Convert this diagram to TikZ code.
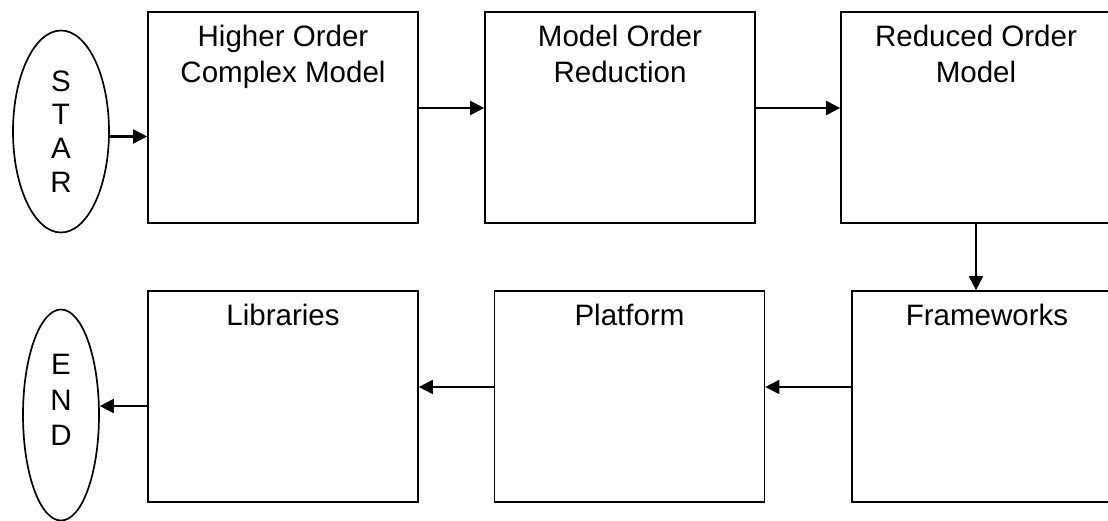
\documentclass[tikz,border=0pt]{standalone}
\usepackage{fontspec}
\setmainfont{Liberation Sans}
\usetikzlibrary{shapes.geometric,arrows.meta}

\tikzset{
  block/.style={draw, line width=1.2pt, minimum width=6.75cm,
    minimum height=5.275cm, inner sep=0pt},
  title/.style={label={[anchor=north, yshift=-0.1cm, align=center]north:#1}},
  terminal/.style={draw, ellipse, line width=1.2pt, inner sep=0pt},
  flow/.style={line width=1.5pt, -{Triangle[length=0.35cm, width=0.35cm]}},
}

\begin{document}
\begin{tikzpicture}[node font=\fontsize{21}{25.3}\selectfont]
  \useasboundingbox (0,0) rectangle (27.7,-13.025);
  % top row
  \node [terminal, minimum width=2.4cm, minimum height=5.05cm, align=center,
    node font=\fontsize{21}{24}\selectfont]
    (start) at (1.525,-3.2875) {S\\T\\A\\R};
  \node [block, title={Higher Order\\Complex Model}] (hocm) at (7.075,-2.9375) {};
  \node [block, title={Model Order\\Reduction}] (mor) at (15.5,-2.9375) {};
  \node [block, title={Reduced Order\\Model}] (rom) at (24.4,-2.9375) {};
  % bottom row
  \node [block, title=Frameworks] (fw) at (24.675,-9.9125) {};
  \node [block, title=Platform] (plat) at (15.7375,-9.9125) {};
  \node [block, title=Libraries] (lib) at (7.075,-9.9125) {};
  \node [terminal, minimum width=1.9cm, minimum height=5.275cm,
    label={[yshift=0.375cm, align=center]center:E\\N\\D}]
    (end) at (1.525,-10.375) {};
  % arrows
  \draw [flow] ([yshift=-0.125cm]start.east) -- ([yshift=-0.125cm]start.east -| hocm.west);
  \draw [flow] ([yshift=0.2375cm]hocm.east) -- ([yshift=0.2375cm]mor.west);
  \draw [flow] ([yshift=0.2375cm]mor.east) -- ([yshift=0.2375cm]rom.west);
  \draw [flow] (rom.south) -- (rom.south |- fw.north);
  \draw [flow] ([yshift=0.2375cm]fw.west) -- ([yshift=0.2375cm]plat.east);
  \draw [flow] ([yshift=0.2375cm]plat.west) -- ([yshift=0.2375cm]lib.east);
  \draw [flow] ([yshift=-0.2375cm]lib.west) -- ([yshift=-0.2375cm]lib.west -| end.east);
\end{tikzpicture}
\end{document}
